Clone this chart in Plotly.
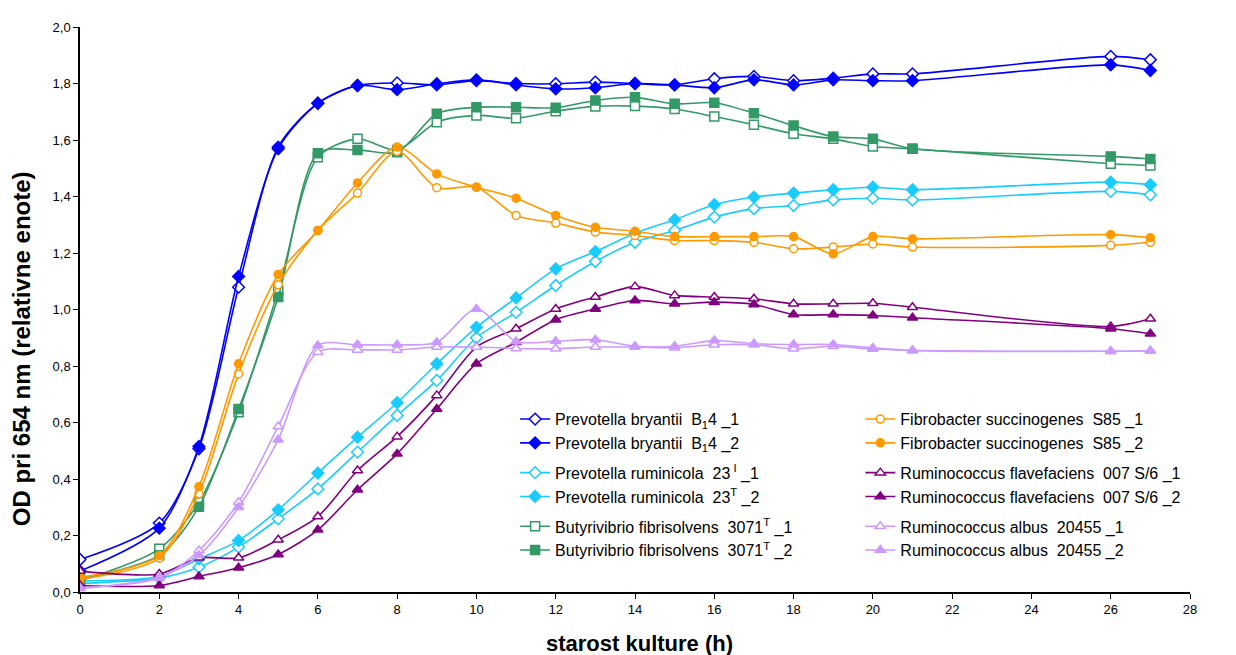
import plotly.graph_objects as go

hours = [0, 2, 3, 4, 5, 6, 7, 8, 9, 10, 11, 12, 13, 14, 15, 16, 17, 18, 19, 20, 21, 26, 27]

pb1 = [0.115, 0.244, 0.507, 1.079, 1.575, 1.73, 1.793, 1.802, 1.795, 1.81, 1.80, 1.799, 1.805, 1.80, 1.795, 1.817, 1.825, 1.81, 1.819, 1.834, 1.834, 1.896, 1.884]
pb2 = [0.074, 0.226, 0.515, 1.117, 1.569, 1.73, 1.793, 1.778, 1.799, 1.813, 1.795, 1.781, 1.785, 1.80, 1.795, 1.785, 1.813, 1.795, 1.813, 1.81, 1.81, 1.866, 1.846]
pr1 = [0.03, 0.05, 0.088, 0.159, 0.259, 0.365, 0.495, 0.625, 0.749, 0.90, 0.99, 1.085, 1.17, 1.238, 1.28, 1.327, 1.357, 1.368, 1.388, 1.394, 1.388, 1.418, 1.406]
pr2 = [0.04, 0.055, 0.117, 0.182, 0.291, 0.421, 0.548, 0.67, 0.808, 0.937, 1.041, 1.144, 1.205, 1.27, 1.318, 1.371, 1.398, 1.412, 1.424, 1.433, 1.424, 1.451, 1.442]
bf1 = [0.04, 0.153, 0.318, 0.636, 1.067, 1.539, 1.604, 1.565, 1.663, 1.687, 1.677, 1.702, 1.719, 1.72, 1.71, 1.683, 1.654, 1.622, 1.604, 1.577, 1.569, 1.516, 1.51]
bf2 = [0.045, 0.13, 0.302, 0.648, 1.044, 1.553, 1.565, 1.557, 1.693, 1.716, 1.716, 1.714, 1.74, 1.751, 1.728, 1.732, 1.695, 1.651, 1.612, 1.604, 1.569, 1.542, 1.533]
fs1 = [0.045, 0.12, 0.348, 0.772, 1.088, 1.28, 1.412, 1.56, 1.431, 1.433, 1.333, 1.306, 1.274, 1.262, 1.244, 1.244, 1.238, 1.215, 1.221, 1.232, 1.221, 1.227, 1.238]
fs2 = [0.052, 0.129, 0.373, 0.808, 1.124, 1.28, 1.448, 1.575, 1.48, 1.433, 1.394, 1.333, 1.291, 1.277, 1.258, 1.258, 1.258, 1.258, 1.197, 1.258, 1.25, 1.265, 1.254]
rf1 = [0.074, 0.064, 0.121, 0.121, 0.185, 0.267, 0.43, 0.55, 0.696, 0.867, 0.932, 1.002, 1.044, 1.081, 1.05, 1.044, 1.038, 1.02, 1.02, 1.022, 1.008, 0.94, 0.967]
rf2 = [0.023, 0.023, 0.055, 0.086, 0.133, 0.22, 0.362, 0.489, 0.648, 0.808, 0.884, 0.964, 1.002, 1.032, 1.02, 1.026, 1.018, 0.982, 0.982, 0.979, 0.971, 0.932, 0.914]
ra1 = [0.015, 0.05, 0.147, 0.318, 0.586, 0.849, 0.857, 0.857, 0.867, 0.867, 0.862, 0.861, 0.867, 0.867, 0.865, 0.875, 0.875, 0.861, 0.87, 0.86, 0.855, 0.852, 0.854]
ra2 = [0.012, 0.052, 0.13, 0.30, 0.539, 0.873, 0.875, 0.875, 0.884, 1.002, 0.887, 0.888, 0.893, 0.87, 0.87, 0.89, 0.879, 0.876, 0.876, 0.864, 0.855, 0.852, 0.854]

x_ticks = [0, 2, 4, 6, 8, 10, 12, 14, 16, 18, 20, 22, 24, 26, 28]

series = [
    ("Prevotella bryantii  B<sub>1</sub>4 _1", pb1, "#0000FF", "diamond", True, "pb", "legend"),
    ("Prevotella bryantii  B<sub>1</sub>4 _2", pb2, "#0000FF", "diamond", False, "pb", "legend"),
    ("Prevotella ruminicola  23<sup> I</sup> _1", pr1, "#19CCFF", "diamond", True, "pr", "legend"),
    ("Prevotella ruminicola  23<sup>T</sup> _2", pr2, "#19CCFF", "diamond", False, "pr", "legend"),
    ("Butyrivibrio fibrisolvens  3071<sup>T</sup> _1", bf1, "#339966", "square", True, "bf", "legend"),
    ("Butyrivibrio fibrisolvens  3071<sup>T</sup> _2", bf2, "#339966", "square", False, "bf", "legend"),
    ("Fibrobacter succinogenes  S85 _1", fs1, "#FF9900", "circle", True, "fs", "legend2"),
    ("Fibrobacter succinogenes  S85 _2", fs2, "#FF9900", "circle", False, "fs", "legend2"),
    ("Ruminococcus flavefaciens  007 S/6 _1", rf1, "#800080", "triangle-up", True, "rf", "legend2"),
    ("Ruminococcus flavefaciens  007 S/6 _2", rf2, "#800080", "triangle-up", False, "rf", "legend2"),
    ("Ruminococcus albus  20455 _1", ra1, "#CC99FF", "triangle-up", True, "ra", "legend2"),
    ("Ruminococcus albus  20455 _2", ra2, "#CC99FF", "triangle-up", False, "ra", "legend2"),
]

fig = go.Figure()
for name, vals, col, sym, is_open, grp, leg in series:
    fig.add_trace(go.Scatter(
        x=hours, y=vals, name=name, mode="lines+markers",
        line=dict(color=col, width=1.6, shape="spline", smoothing=0.8),
        marker=dict(symbol=sym, size=9 if sym != "circle" else 8,
                    color="white" if is_open else col,
                    line=dict(color=col, width=1.5)),
        legendgroup=grp, legend=leg,
    ))

font_fam = "Liberation Sans, Arial, sans-serif"
fig.update_layout(
    width=1220, height=647,
    margin=dict(l=72, r=38, t=19, b=63, autoexpand=False),
    paper_bgcolor="white", plot_bgcolor="white",
    separators=", ",
    font=dict(family=font_fam, color="black", size=13),
    showlegend=True,
    legend=dict(x=0.392, y=0.336, xanchor="left", yanchor="top",
                traceorder="grouped", tracegroupgap=6,
                font=dict(size=16, family=font_fam), bgcolor="rgba(0,0,0,0)"),
    legend2=dict(x=0.703, y=0.336, xanchor="left", yanchor="top",
                 traceorder="grouped", tracegroupgap=6,
                 font=dict(size=16, family=font_fam), bgcolor="rgba(0,0,0,0)"),
    xaxis=dict(range=[0, 28], tickvals=x_ticks, showgrid=False, zeroline=False,
               showline=True, linecolor="black", linewidth=1.5,
               ticks="outside", ticklen=5, tickcolor="black",
               tickfont=dict(size=13), automargin=False),
    yaxis=dict(range=[0, 2.0], dtick=0.2, tickformat=".1f", showgrid=False, zeroline=False,
               showline=True, linecolor="black", linewidth=1.5,
               ticks="outside", ticklen=5, tickcolor="black",
               tickfont=dict(size=13), automargin=False),
    annotations=[
        dict(text="<b>starost kulture (h)</b>", xref="paper", yref="paper",
             x=0.5045, y=-0.091, xanchor="center", yanchor="middle",
             showarrow=False, font=dict(size=22)),
        dict(text="<b>OD pri 654 nm (relativne enote)</b>", xref="paper", yref="paper",
             x=-0.053, y=0.43, xanchor="center", yanchor="middle", textangle=-90,
             showarrow=False, font=dict(size=24)),
    ],
)

fig.write_html("out.html")
